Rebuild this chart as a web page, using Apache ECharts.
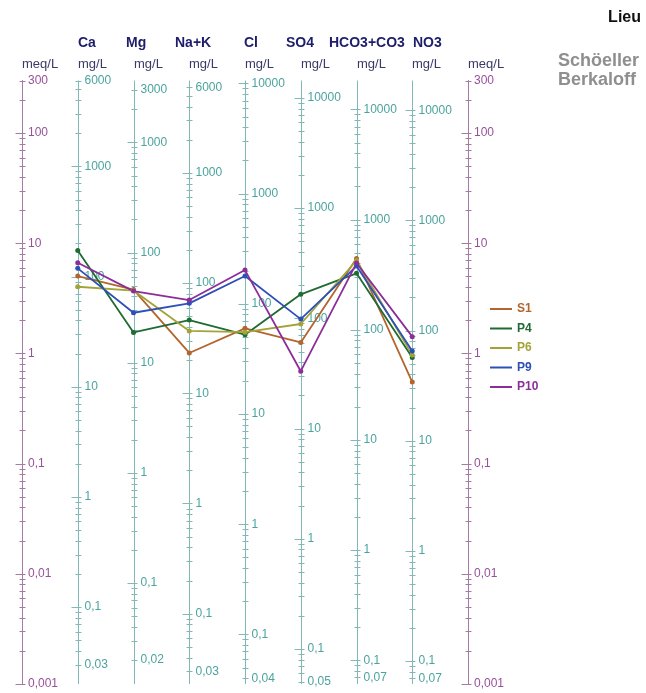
<!DOCTYPE html>
<html>
<head>
<meta charset="utf-8">
<script src="https://cdn.jsdelivr.net/npm/echarts@6/dist/echarts.min.js"></script>
<style>
  html, body { margin: 0; padding: 0; background: #fff; }
  #chart { width: 646px; height: 693px; }
</style>
</head>
<body>
<div id="chart"></div>
<script>
const FONT = '"Liberation Sans", Arial, sans-serif';

// ions, left to right, with their equivalent weight (mg per meq)
const ION_NAMES = [ 'Ca', 'Mg', 'Na+K', 'Cl', 'SO4', 'HCO3+CO3', 'NO3' ];
const ION_EQW = [ 20.04, 12.15, 23, 35.45, 48.03, 61.02, 62 ];

// labelled values (mg/L) on every ion axis
const CA_LABELS = [ 6000, 1000, 100, 10, 1, 0.1, 0.03 ];
const MG_LABELS = [ 3000, 1000, 100, 10, 1, 0.1, 0.02 ];
const NAK_LABELS = [ 6000, 1000, 100, 10, 1, 0.1, 0.03 ];
const CL_LABELS = [ 10000, 1000, 100, 10, 1, 0.1, 0.04 ];
const SO4_LABELS = [ 10000, 1000, 100, 10, 1, 0.1, 0.05 ];
const HCO3_LABELS = [ 10000, 1000, 100, 10, 1, 0.1, 0.07 ];
const NO3_LABELS = [ 10000, 1000, 100, 10, 1, 0.1, 0.07 ];
const ION_LABELS = [ CA_LABELS, MG_LABELS, NAK_LABELS, CL_LABELS, SO4_LABELS, HCO3_LABELS, NO3_LABELS ];

// meq/L range of the two outer axes
const MEQ_MIN = 0.001;
const MEQ_MAX = 300;

// samples, in meq/L, same order as ION_NAMES
const SERIES_NAMES = [ 'S1', 'P4', 'P6', 'P9', 'P10' ];
const S1_VALUES = [ 5.04, 3.80, 1.01, 1.69, 1.26, 7.26, 0.55 ];
const P4_VALUES = [ 8.59, 1.55, 2.01, 1.48, 3.44, 5.33, 0.92 ];
const P6_VALUES = [ 4.03, 3.72, 1.60, 1.56, 1.85, 6.97, 0.97 ];
const P9_VALUES = [ 5.92, 2.34, 2.85, 5.04, 2.05, 6.21, 1.05 ];
const P10_VALUES = [ 6.65, 3.68, 3.05, 5.71, 0.69, 6.61, 1.42 ];
const SERIES_VALUES = [ S1_VALUES, P4_VALUES, P6_VALUES, P9_VALUES, P10_VALUES ];
const SERIES_COLORS = [ '#b3652e', '#1f6b33', '#a3a437', '#2d4fb8', '#8c2d99' ];

const MEQ_COLOR = '#a57aa3';
const MEQ_LABEL_COLOR = '#97509a';
const ION_COLOR = '#80b9b6';
const ION_LABEL_COLOR = '#4aa39e';
const TITLE_COLOR = '#1d1d6b';
const UNIT_COLOR = '#3a3a66';

const CATEGORIES = [ 'meqL' ].concat(ION_NAMES, [ 'meqR' ]);
const TITLE_X = [ 78, 126, 175, 244, 286, 329, 413 ];

function formatNum(v) {
  return String(parseFloat(Number(v).toPrecision(4))).replace('.', ',');
}

function logTicks(lo, hi) {
  let ticks = [];

  for (let e = Math.floor(Math.log10(lo)); e <= Math.ceil(Math.log10(hi)); e++) {
    for (let m = 1; m <= 9; m++) {
      let v = m * Math.pow(10, e);
      if (v >= lo * 0.999 && v <= hi * 1.001) ticks.push({ value: v, major: m === 1 });
    }
  }

  return ticks;
}

function tick(x, y, major, color) {
  let yy = Math.round(y) + 0.5;
  return {
    type: 'line',
    shape: { x1: x - (major ? 7 : 3), y1: yy, x2: x + 3, y2: yy },
    style: { stroke: color, lineWidth: 1 }
  };
}

function renderIonAxis(params, api) {
  let i = params.dataIndex;
  let idx = i + 1;
  let eqw = ION_EQW[i];
  let labels = ION_LABELS[i];
  let x = Math.round(api.coord([ idx, 1 ])[0]) + 0.5;
  let yTop = api.coord([ idx, MEQ_MAX ])[1];
  let yBottom = api.coord([ idx, MEQ_MIN ])[1];
  let children = [{
    type: 'line',
    shape: { x1: x, y1: yTop, x2: x, y2: yBottom },
    style: { stroke: ION_COLOR, lineWidth: 1 }
  }];

  logTicks(Math.min(...labels), Math.max(...labels)).forEach(t => {
    children.push(tick(x, api.coord([ idx, t.value / eqw ])[1], t.major, ION_COLOR));
  });

  labels.forEach(v => {
    children.push({
      type: 'text',
      x: x + 6,
      y: api.coord([ idx, v / eqw ])[1],
      style: {
        text: formatNum(v),
        fill: ION_LABEL_COLOR,
        font: '12px ' + FONT,
        verticalAlign: 'middle'
      }
    });
  });

  return { type: 'group', children };
}

function renderMeqTicks(params, api) {
  let idx = params.dataIndex === 0 ? 0 : CATEGORIES.length - 1;
  let x = Math.round(api.coord([ idx, 1 ])[0]) + 0.5;
  let children = logTicks(MEQ_MIN, MEQ_MAX).map(t =>
    tick(x, api.coord([ idx, t.value ])[1], t.major, MEQ_COLOR)
  );
  return { type: 'group', children };
}

function meqAxis(position) {
  return {
    type: 'log',
    position,
    min: MEQ_MIN,
    max: MEQ_MAX,
    axisLine: { show: true, lineStyle: { color: MEQ_COLOR, width: 1 } },
    axisTick: { show: false },
    splitLine: { show: false },
    axisLabel: {
      inside: position === 'left',
      margin: 6,
      color: MEQ_LABEL_COLOR,
      fontSize: 12,
      fontFamily: FONT,
      showMinLabel: true,
      showMaxLabel: true,
      formatter: formatNum
    }
  };
}

let texts = [];

ION_NAMES.forEach((name, i) => {
  texts.push({
    type: 'text', x: TITLE_X[i], y: 43,
    style: { text: name, fill: TITLE_COLOR, font: 'bold 14px ' + FONT, verticalAlign: 'middle' }
  });
});

[ 0, 1, 2, 3, 4, 5, 6, 7, 8 ].forEach(k => {
  let x = 22 + k * 55.75;
  texts.push({
    type: 'text', x: Math.round(x), y: 64,
    style: {
      text: (k === 0 || k === 8) ? 'meq/L' : 'mg/L',
      fill: UNIT_COLOR, font: '13px ' + FONT, verticalAlign: 'middle'
    }
  });
});

texts.push({
  type: 'text', x: 641, y: 18,
  style: { text: 'Lieu', fill: '#111', font: 'bold 16px ' + FONT, align: 'right', verticalAlign: 'middle' }
});
texts.push({
  type: 'text', x: 558, y: 61,
  style: { text: 'Schöeller', fill: '#8f8f8f', font: 'bold 18px ' + FONT, verticalAlign: 'middle' }
});
texts.push({
  type: 'text', x: 558, y: 80,
  style: { text: 'Berkaloff', fill: '#8f8f8f', font: 'bold 18px ' + FONT, verticalAlign: 'middle' }
});

let lineSeries = SERIES_NAMES.map((name, s) => ({
  name,
  type: 'line',
  xAxisIndex: 0,
  yAxisIndex: 0,
  data: ION_NAMES.map((ion, i) => [ ion, SERIES_VALUES[s][i] ]),
  symbol: 'circle',
  symbolSize: 5,
  color: SERIES_COLORS[s],
  lineStyle: { width: 1.8, color: SERIES_COLORS[s] },
  itemStyle: { color: SERIES_COLORS[s] },
  z: 10
}));

let chart = echarts.init(document.querySelector('#chart'));

chart.setOption({
  animation: false,
  backgroundColor: '#fff',
  grid: { left: 22, right: 178, top: 80.5, bottom: 9 },
  xAxis: {
    type: 'category',
    data: CATEGORIES,
    boundaryGap: false,
    show: false
  },
  yAxis: [ meqAxis('left'), meqAxis('right') ],
  legend: {
    orient: 'vertical',
    left: 485,
    top: 298,
    icon: 'rect',
    itemWidth: 22,
    itemHeight: 2,
    itemGap: 7.5,
    textStyle: { fontWeight: 'bold', fontSize: 12, fontFamily: FONT },
    data: SERIES_NAMES.map((n, i) => ({ name: n, textStyle: { color: SERIES_COLORS[i] } }))
  },
  graphic: texts,
  series: [
    {
      type: 'custom',
      renderItem: renderIonAxis,
      data: ION_NAMES.map((n, i) => [ i + 1, 1 ]),
      encode: { x: 0, y: 1 },
      silent: true,
      z: 1
    },
    {
      type: 'custom',
      renderItem: renderMeqTicks,
      data: [ [ 0, 1 ], [ CATEGORIES.length - 1, 1 ] ],
      encode: { x: 0, y: 1 },
      silent: true,
      z: 1
    }
  ].concat(lineSeries)
});
</script>
</body>
</html>
